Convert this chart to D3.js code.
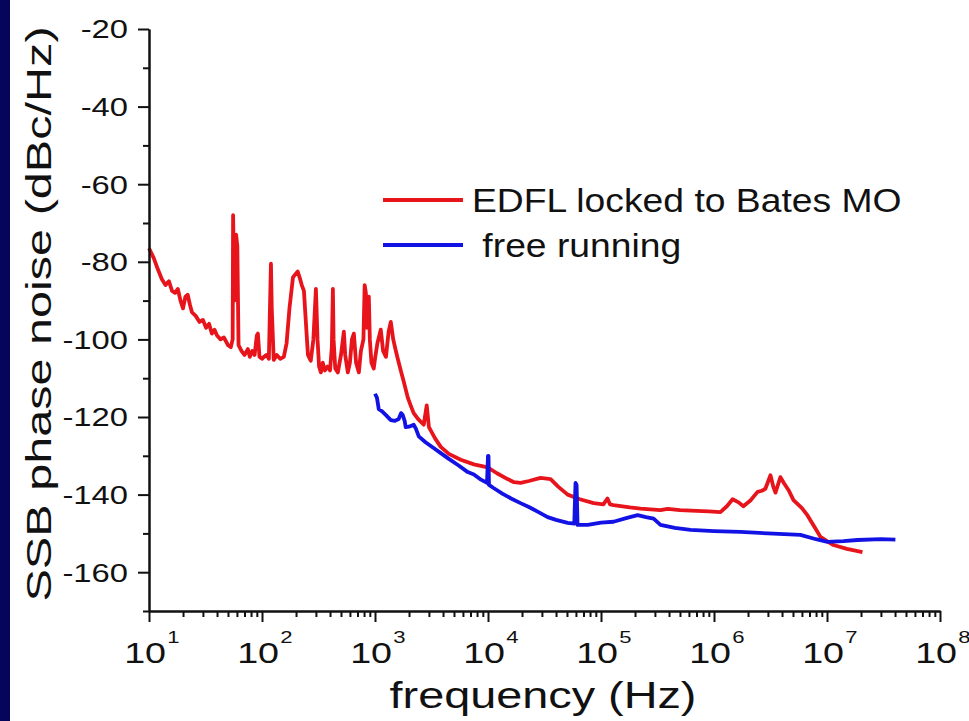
<!DOCTYPE html>
<html>
<head>
<meta charset="utf-8">
<script src="https://cdn.jsdelivr.net/npm/d3@7"></script>
<style>
  body { margin: 0; background: #fff; }
  svg { display: block; }
  text { font-family: Arial, "Liberation Sans", sans-serif; fill: #111; }
</style>
</head>
<body>
<div id="chart"></div>
<script>
// --- data ---
var yTicks = [-160, -140, -120, -100, -80, -60, -40, -20]
  , yMinor = [-170, -150, -130, -110, -90, -70, -50, -30]
  , xDecades = [1, 2, 3, 4, 5, 6, 7, 8]
  , seriesNames = ["EDFL locked to Bates MO", " free running"]

// red: locked
var redFreq = [10, 11, 12, 13, 14, 15, 16, 17, 18, 19, 20, 21, 22, 23, 24, 26, 28, 30, 32, 34,
  36, 38, 40, 43, 46, 50, 53, 55, 55.5, 57, 59, 60.5, 62, 66, 70, 75, 78, 82, 86, 90,
  92, 95, 100, 104, 110, 115, 118, 120, 122, 127, 135, 145, 156, 165, 175, 188, 200, 207, 215, 225,
  235, 245, 255, 270, 285, 300, 310, 320, 332, 345, 360, 380, 400, 415, 424, 430, 445, 469, 500, 530,
  545, 575, 600, 625, 650, 680, 720, 750, 790, 810, 830, 850, 882, 900, 930, 975, 1000, 1050, 1125, 1180,
  1250, 1320, 1380, 1450, 1530, 1590, 1690, 1800, 1950, 2100, 2200, 2400, 2700, 2800, 2870, 2950, 3000, 3400, 3820, 4500,
  5740, 7500, 9930, 12000, 14900, 17000, 19400, 23000, 29200, 35800, 42000, 50700, 65000, 86100, 105000, 114000, 120000, 129000, 180000, 224000,
  336000, 388000, 500000, 700000, 900000, 1140000, 1300000, 1460000, 1650000, 1820000, 2100000, 2430000, 2650000, 2850000, 3160000, 3350000, 3500000, 3870000, 4150000, 4560000,
  5050000, 6000000, 6700000, 8000000, 8750000, 1e7, 1.14e7, 1.5e7, 2.06e7]
var redDb = [-76.5, -79, -82, -84.5, -86, -85, -87.5, -88, -87, -90, -92, -89, -88.5, -91, -93, -94, -95.5, -95, -97, -96,
  -98.5, -97.5, -99, -100, -99.5, -101.5, -102, -100, -68, -90, -73, -76, -101.5, -103, -104, -102.5, -104.5, -103, -104, -99,
  -98.5, -104.5, -105, -104.5, -104, -105, -90, -80.5, -92, -105.3, -104, -105, -104.5, -101, -92, -84, -83, -82.5, -84, -86,
  -87.5, -96, -104, -105.5, -100, -87, -100, -107, -108.5, -106, -108, -107, -108, -102, -87, -100, -107.5, -108.5, -104, -98,
  -104, -108.5, -106, -100, -98.5, -106, -108.5, -103, -100, -86, -88, -97, -89, -100, -106, -107.5, -105, -101, -97.5, -103,
  -104.5, -98, -95.5, -100, -103, -105, -108, -111, -115, -117.5, -119, -120.5, -122, -119, -117, -120.5, -122.6, -125.5, -127.7, -129.5,
  -131, -132.2, -133, -134.5, -136, -136.8, -137, -136.5, -135.7, -136, -138, -140, -141.2, -142.2, -142.5, -141, -142.5, -142.7, -143.3, -143.6,
  -144, -143.7, -144, -144.2, -144.3, -144.5, -143, -141.2, -142, -143, -141.5, -139.3, -139, -138.5, -135, -138, -139.5, -135.5, -137, -138.8,
  -141.4, -143.5, -145.3, -149, -150.9, -152, -153, -154, -154.8]

// blue: free running
var blueFreq = [1000, 1040, 1080, 1150, 1250, 1380, 1500, 1620, 1700, 1760, 1830, 1870, 2000, 2200, 2300, 2440, 2800, 3300, 3820, 4500,
  5500, 6620, 7500, 8500, 9800, 10000, 10100, 10200, 11200, 13500, 16000, 19400, 23000, 28000, 33700, 40000, 50700, 58000, 59500, 60800,
  62000, 76200, 100000, 129000, 170000, 211000, 250000, 292000, 336000, 450000, 620000, 1000000, 1710000, 3000000, 5820000, 8000000, 1.01e7, 1.4e7, 1.86e7, 3e7,
  4.03e7]
var blueDb = [-114, -115, -118, -118.5, -119.5, -120.8, -121, -120.5, -119, -119.5, -121, -122.6, -122.5, -122, -123, -125, -126.5, -128, -129.3, -130.8,
  -132.5, -134.2, -134.8, -136, -137, -130, -130, -137.5, -138.3, -139.8, -141, -142.2, -143.2, -144.5, -145.8, -146.5, -147.3, -147.5, -137, -137.5,
  -147.8, -147.8, -147.2, -147, -146, -145.3, -145.8, -146.2, -147.8, -148.6, -149.1, -149.4, -149.6, -150, -150.4, -151.5, -152.2, -152, -151.7, -151.5,
  -151.6]

var red = "#e8141c", blue = "#1212e4"

// --- layout ---
var width = 969, height = 721
  , plotLeft = 149, plotRight = 940, plotTop = 29, plotBottom = 611
  , stretch = 1.3 // the lettering in the original is drawn wide

var svg = d3.select("#chart").append("svg")
  .attr("width", width)
  .attr("height", height)

// navy slide edge
svg.append("rect")
  .attr("x", 0).attr("y", 0)
  .attr("width", 10).attr("height", height)
  .style("fill", "#05055c")

var x = d3.scaleLog().domain([10, 1e8]).range([plotLeft, plotRight])
  , y = d3.scaleLinear().domain([-170, -20]).range([plotBottom, plotTop])

var line = d3.line()
  .x(function (d) { return x(d[0]) })
  .y(function (d) { return y(d[1]) })

function pairs(f, v) {
  return f.map(function (d, i) { return [d, v[i]] })
}

// curves
svg.append("path")
  .datum(pairs(redFreq, redDb))
  .attr("d", line)
  .style("fill", "none").style("stroke", red)
  .style("stroke-width", 3.8).style("stroke-linejoin", "round")

svg.append("path")
  .datum(pairs(blueFreq, blueDb))
  .attr("d", line)
  .style("fill", "none").style("stroke", blue)
  .style("stroke-width", 3.8).style("stroke-linejoin", "round")

// --- axes ---
var xMajor = xDecades.map(function (p) { return Math.pow(10, p) })
  , xMinor = []
xDecades.slice(0, -1).forEach(function (p) {
  for (var m = 2; m < 10; m++) xMinor.push(m * Math.pow(10, p))
})

function styleAxis(g) {
  g.select(".domain").style("stroke", "#111").style("stroke-width", 2)
  g.selectAll(".tick line").style("stroke", "#111").style("stroke-width", 2)
}

svg.append("g")
  .attr("transform", "translate(0," + plotBottom + ")")
  .call(d3.axisBottom(x).tickValues(xMinor).tickSize(6).tickSizeOuter(0).tickFormat(""))
  .call(styleAxis)
svg.append("g")
  .attr("transform", "translate(0," + plotBottom + ")")
  .call(d3.axisBottom(x).tickValues(xMajor).tickSize(11).tickSizeOuter(0).tickFormat(""))
  .call(styleAxis)

svg.append("g")
  .attr("transform", "translate(" + plotLeft + ",0)")
  .call(d3.axisLeft(y).tickValues(yMinor).tickSize(6).tickSizeOuter(0).tickFormat(""))
  .call(styleAxis)
svg.append("g")
  .attr("transform", "translate(" + plotLeft + ",0)")
  .call(d3.axisLeft(y).tickValues(yTicks).tickSize(11).tickSizeOuter(0).tickFormat(""))
  .call(styleAxis)

// y tick labels
svg.selectAll(".ylab")
  .data(yTicks)
  .enter().append("text")
    .attr("class", "ylab")
    .attr("transform", function (d) { return "translate(128," + y(d) + ") scale(1.26,1)" })
    .attr("dy", "0.36em")
    .style("text-anchor", "end")
    .style("font-size", "26px")
    .text(function (d) { return d })

// x tick labels: 10 with superscript exponent
var xl = svg.selectAll(".xlab")
  .data(xDecades)
  .enter().append("g")
    .attr("class", "xlab")
    .attr("transform", function (d) { return "translate(" + x(Math.pow(10, d)) + ",663) scale(" + stretch + ",1)" })

xl.append("text")
  .attr("x", -3)
  .style("text-anchor", "middle")
  .style("font-size", "29px")
  .text("10")

xl.append("text")
  .attr("x", 14)
  .attr("y", -20)
  .style("font-size", "17px")
  .text(function (d) { return d })

// axis titles
svg.append("text")
  .attr("transform", "translate(543,708) scale(" + stretch + ",1)")
  .style("text-anchor", "middle")
  .style("font-size", "36px")
  .text("frequency (Hz)")

svg.append("text")
  .attr("transform", "translate(51,314) rotate(-90) scale(1.35,1)")
  .style("text-anchor", "middle")
  .style("font-size", "36px")
  .text("SSB phase noise (dBc/Hz)")

// legend
var legend = svg.selectAll(".legend")
  .data([[seriesNames[0], red], [seriesNames[1], blue]])
  .enter().append("g")
    .attr("class", "legend")
    .attr("transform", function (d, i) { return "translate(383," + (200 + i * 45) + ")" })

legend.append("line")
  .attr("x1", 0).attr("x2", 80)
  .style("stroke", function (d) { return d[1] })
  .style("stroke-width", 3.8)

legend.append("text")
  .attr("transform", "translate(89,12) scale(1.13,1)")
  .attr("xml:space", "preserve")
  .style("white-space", "pre")
  .style("font-size", "33px")
  .text(function (d) { return d[0] })
</script>
</body>
</html>
